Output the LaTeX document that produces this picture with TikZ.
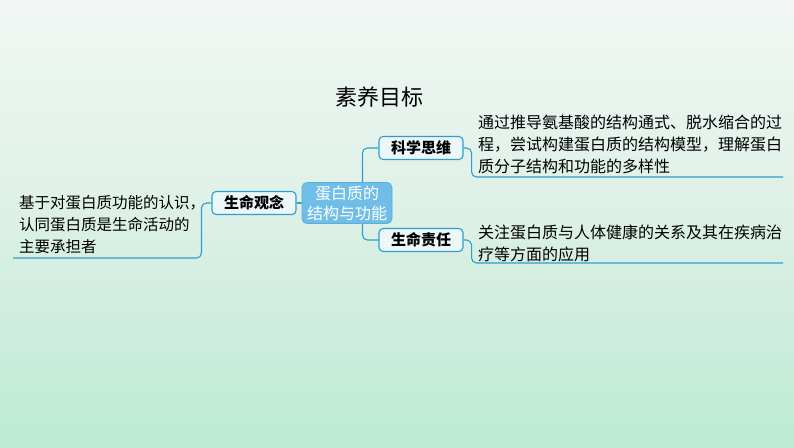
\documentclass[tikz,border=0pt]{standalone}
\usepackage{fontspec}
\setmainfont{Noto Sans CJK SC}
\usepackage{tikz}
\usetikzlibrary{positioning}

\definecolor{linkblue}{RGB}{48,158,205}
\definecolor{corefill}{RGB}{112,190,232}
\definecolor{tagfill}{RGB}{236,247,250}
\definecolor{bgtop}{RGB}{242,247,244}
\definecolor{bgmid}{RGB}{220,240,230}
\definecolor{bgbot}{RGB}{188,234,212}

\tikzset{
    link/.style={draw=linkblue, line width=1.1pt, rounded corners=5pt},
    core/.style={draw=linkblue!80, line width=0.8pt, fill=corefill, rounded corners=5pt, text=white,
        align=center, font=\fontsize{16}{20}\selectfont, minimum width=90pt, minimum height=41pt, inner sep=2pt},
    tag/.style={draw=linkblue, line width=1.1pt, fill=tagfill, rounded corners=4pt,
        font=\fontsize{15}{18}\selectfont\bfseries, minimum width=84pt, minimum height=23pt, inner sep=1pt},
    desc/.style={align=left, inner sep=0pt, font=\fontsize{16}{22}\selectfont},
}

\begin{document}
\begin{tikzpicture}[x=1pt, y=-1pt]
        \shade[top color=bgtop, bottom color=bgbot, middle color=bgmid] (0,0) rectangle (794,447);
        \useasboundingbox (0,0) rectangle (794,447);

        \node[font=\fontsize{22}{26}\selectfont] (title) at (379,97) {素养目标};

        % tags round the core
        \node[tag] (guan) at (254,203) {生命观念};
        \node[tag] (si) at (421,148) {科学思维};
        \node[tag] (ze) at (421,240) {生命责任};

        % texts
        \node[desc, font=\fontsize{15.5}{22}\selectfont, anchor=north west] (guantxt) at (19,195)
            {基于对蛋白质功能的认识，\\认同蛋白质是生命活动的\\主要承担者};
        \node[desc, anchor=north west] (sitxt) at (478,115)
            {通过推导氨基酸的结构通式、脱水缩合的过\\程，尝试构建蛋白质的结构模型，理解蛋白\\质分子结构和功能的多样性};
        \node[desc, anchor=north west] (zetxt) at (478,225)
            {关注蛋白质与人体健康的关系及其在疾病治\\疗等方面的应用};

        \coordinate (guanend) at (13,258);
        \coordinate (siend) at (783,177);
        \coordinate (zeend) at (783,263);

        % connectors
        \draw[link] (si.west) -- ++(-16,0) |- (ze.west);
        \draw[link] (guan.east) -- (306,203);
        \draw[link] (guan.west) -- ++(-10,0) |- (guanend);
        \draw[link] (si.east) -- ++(8,0) |- (siend);
        \draw[link] (ze.east) -- ++(8,0) |- (zeend);

        \node[core] (core) at (347,203) {蛋白质的\\结构与功能};
    \end{tikzpicture}
\end{document}
